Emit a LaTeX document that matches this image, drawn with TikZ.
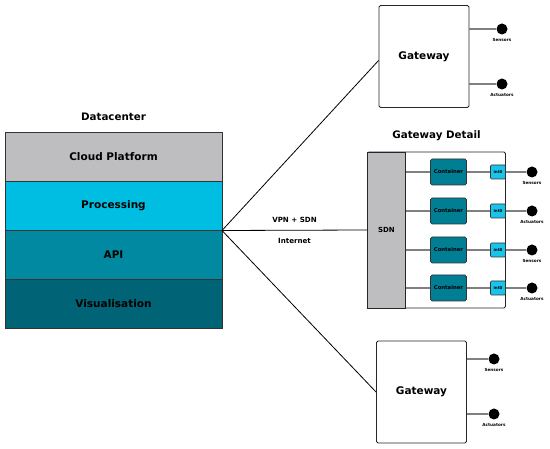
\documentclass[tikz,border=0pt]{standalone}
\usepackage{fontspec}
\setmainfont{DejaVu Sans}
\usetikzlibrary{positioning}
\definecolor{colorgray}{RGB}{190, 190, 193}
\definecolor{colorcyan}{RGB}{0, 190, 226}
\definecolor{colorapi}{RGB}{0, 137, 160}
\definecolor{colorvis}{RGB}{0, 100, 118}
\definecolor{colorcont}{RGB}{0, 126, 148}
\definecolor{colorint}{RGB}{24, 196, 234}
\definecolor{colorwire}{RGB}{128, 128, 128}
\tikzstyle{title} = [font=\bfseries\fontsize{10.3}{12}\selectfont]
\tikzstyle{layer} = [rectangle, minimum width=217pt, minimum height=49pt, outer sep=0pt, text centered, draw=black!80, line width=0.9pt, font=\bfseries\fontsize{10.5}{12}\selectfont]
\tikzstyle{gateway} = [rectangle, rounded corners=1.5pt, minimum width=90pt, minimum height=102pt, text centered, draw=black!85, line width=0.9pt, fill=white, font=\bfseries\fontsize{10.5}{12}\selectfont]
\tikzstyle{container} = [rectangle, rounded corners=1.5pt, minimum width=35pt, minimum height=26pt, draw=black!80, line width=0.7pt, fill=colorcont, font=\bfseries\fontsize{5.3}{6}\selectfont]
\tikzstyle{iface} = [rectangle, rounded corners=1pt, minimum width=15pt, minimum height=14pt, inner sep=0pt, draw=black!80, line width=0.6pt, fill=colorint, font=\bfseries\fontsize{4}{5}\selectfont]
\tikzstyle{device} = [circle, fill=black, minimum size=11pt, inner sep=0pt]
\tikzstyle{devlabel} = [inner sep=0pt, font=\bfseries\fontsize{4.2}{5}\selectfont]
\tikzstyle{link} = [line width=0.8pt]
\tikzstyle{wire} = [line width=1.1pt, draw=colorwire]

\begin{document}
\begin{tikzpicture}[x=1pt, y=-1pt]
\useasboundingbox (0,0) rectangle (550,449);

% Datacenter stack
\node (cloud) [layer, fill=colorgray] at (113.5,157) {Cloud Platform};
\node (proc) [layer, fill=colorcyan, below=0pt of cloud] {Processing};
\node (api) [layer, fill=colorapi, below=0pt of proc] {API};
\node (vis) [layer, fill=colorvis, below=0pt of api] {Visualisation};
\node (dctitle) [title, above=8pt of cloud] {Datacenter};

% Gateways
\node (gw1) [gateway] at (424,56.5) {Gateway};
\node (gw2) [gateway] at (421.5,392) {Gateway};

% Gateway detail
\node (detail) [rectangle, rounded corners=1.5pt, minimum width=138pt, minimum height=156pt, draw=black!85, line width=0.9pt] at (436.5,230) {};
\node (sdn) [rectangle, minimum width=38pt, minimum height=156pt, draw=black!85, line width=0.9pt, fill=colorgray, anchor=west, font=\bfseries\fontsize{7}{8}\selectfont] at (detail.west) {SDN};
\node (gdtitle) [title, above=7pt of detail] {Gateway Detail};

\node (cont1) [container] at (448.5,172) {Container};
\node (cont2) [container] at (448.5,211) {Container};
\node (cont3) [container] at (448.5,250) {Container};
\node (cont4) [container] at (448.5,288) {Container};
\node (int1) [iface] at (498,172) {int0};
\node (int2) [iface] at (498,211) {int0};
\node (int3) [iface] at (498,250) {int0};
\node (int4) [iface] at (498,288) {int0};

% Sensors and actuators
\node (gw1s) [device] at (502,29) {};
\node (gw1a) [device] at (502,84) {};
\node (gw2s) [device] at (494,359) {};
\node (gw2a) [device] at (494,414) {};
\node (dev1) [device] at (532,172) {};
\node (dev2) [device] at (532,211) {};
\node (dev3) [device] at (532,250) {};
\node (dev4) [device] at (532,288) {};
\node [devlabel, below=3.5pt of gw1s] {Sensors};
\node [devlabel, below=3.5pt of gw1a] {Actuators};
\node [devlabel, below=3.5pt of gw2s] {Sensors};
\node [devlabel, below=3.5pt of gw2a] {Actuators};
\node [devlabel, below=3.5pt of dev1] {Sensors};
\node [devlabel, below=3.5pt of dev2] {Actuators};
\node [devlabel, below=3.5pt of dev3] {Sensors};
\node [devlabel, below=3.5pt of dev4] {Actuators};

% Links from the datacenter
\draw [link] (proc.south east) -- ([yshift=-4pt]gw1.west);
\draw [link] (proc.south east) -- (gw2.west);
\draw [link] (proc.south east) -- node[above=4pt, font=\bfseries\fontsize{7.1}{8}\selectfont] {VPN + SDN}
  node[below=4pt, font=\bfseries\fontsize{7.1}{8}\selectfont] {Internet} (sdn.west);

% Wires
\draw [wire] (gw1.east |- gw1s) -- (gw1s);
\draw [wire] (gw1.east |- gw1a) -- (gw1a);
\draw [wire] (gw2.east |- gw2s) -- (gw2s);
\draw [wire] (gw2.east |- gw2a) -- (gw2a);
\draw [wire] (sdn.east |- cont1) -- (cont1) (cont1) -- (int1) (int1) -- (dev1);
\draw [wire] (sdn.east |- cont2) -- (cont2) (cont2) -- (int2) (int2) -- (dev2);
\draw [wire] (sdn.east |- cont3) -- (cont3) (cont3) -- (int3) (int3) -- (dev3);
\draw [wire] (sdn.east |- cont4) -- (cont4) (cont4) -- (int4) (int4) -- (dev4);

\end{tikzpicture}
\end{document}
